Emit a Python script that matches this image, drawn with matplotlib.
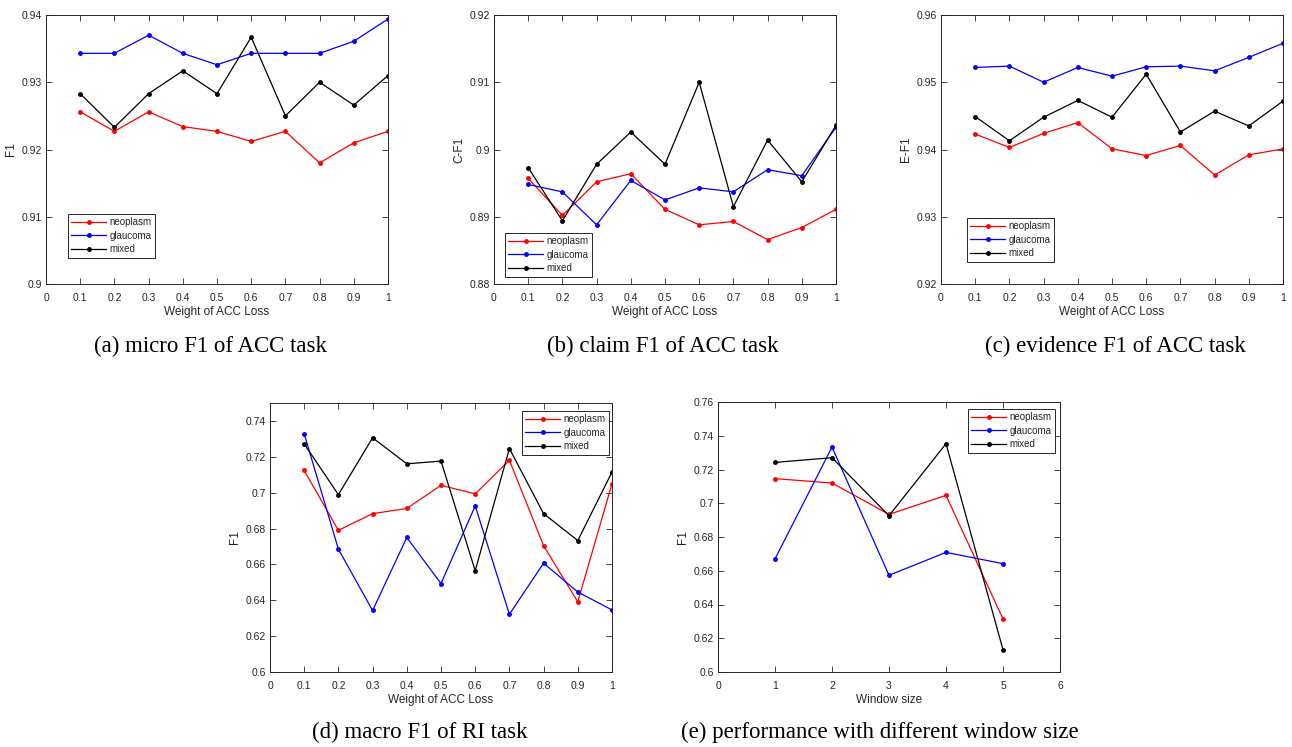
import matplotlib
matplotlib.use("Agg")
import matplotlib.pyplot as plt
from matplotlib.ticker import FuncFormatter

# ---------------- data ----------------
weights = [0.1, 0.2, 0.3, 0.4, 0.5, 0.6, 0.7, 0.8, 0.9, 1.0]
windows = [1, 2, 3, 4, 5]
series_names = ["neoplasm", "glaucoma", "mixed"]

# (a) micro F1 of ACC task
a_neoplasm = [0.9256, 0.9227, 0.9256, 0.9234, 0.9227, 0.9212, 0.9227, 0.9180, 0.9210, 0.9227]
a_glaucoma = [0.9343, 0.9343, 0.9370, 0.9343, 0.9326, 0.9343, 0.9343, 0.9343, 0.9361, 0.9394]
a_mixed    = [0.9283, 0.9233, 0.9283, 0.9317, 0.9283, 0.9367, 0.9250, 0.9300, 0.9266, 0.9310]

# (b) claim F1 of ACC task
b_neoplasm = [0.8957, 0.8902, 0.8952, 0.8964, 0.8911, 0.8888, 0.8893, 0.8866, 0.8884, 0.8911]
b_glaucoma = [0.8948, 0.8937, 0.8888, 0.8954, 0.8925, 0.8943, 0.8937, 0.8970, 0.8961, 0.9033]
b_mixed    = [0.8973, 0.8894, 0.8978, 0.9026, 0.8978, 0.9100, 0.8915, 0.9014, 0.8952, 0.9036]

# (c) evidence F1 of ACC task
c_neoplasm = [0.9423, 0.9403, 0.9424, 0.9440, 0.9401, 0.9391, 0.9406, 0.9362, 0.9392, 0.9401]
c_glaucoma = [0.9522, 0.9524, 0.9500, 0.9522, 0.9509, 0.9523, 0.9524, 0.9517, 0.9537, 0.9558]
c_mixed    = [0.9449, 0.9413, 0.9448, 0.9473, 0.9448, 0.9512, 0.9426, 0.9457, 0.9435, 0.9472]

# (d) macro F1 of RI task
d_neoplasm = [0.7124, 0.6790, 0.6883, 0.6912, 0.7041, 0.6993, 0.7181, 0.6704, 0.6391, 0.7050]
d_glaucoma = [0.7328, 0.6685, 0.6343, 0.6750, 0.6493, 0.6926, 0.6322, 0.6607, 0.6446, 0.6346]
d_mixed    = [0.7272, 0.6989, 0.7306, 0.7161, 0.7176, 0.6565, 0.7246, 0.6883, 0.6733, 0.7115]

# (e) performance with different window size
e_neoplasm = [0.7146, 0.7120, 0.6934, 0.7047, 0.6314]
e_glaucoma = [0.6670, 0.7333, 0.6573, 0.6709, 0.6642]
e_mixed    = [0.7242, 0.7270, 0.6926, 0.7353, 0.6132]

captions = ["(a) micro F1 of ACC task", "(b) claim F1 of ACC task",
            "(c) evidence F1 of ACC task", "(d) macro F1 of RI task",
            "(e) performance with different window size"]

# ---------------- figure ----------------
W, H = 1292, 747
fig = plt.figure(figsize=(W / 100, H / 100), dpi=100)
plt.rcParams['font.family'] = ['Liberation Sans', 'DejaVu Sans']

colors = ["#ff0000", "#0000ff", "#000000"]
grey = "#262626"


def px_rect(l, t, r, b):
    return [l / W, 1 - b / H, (r - l) / W, (b - t) / H]


def fmt(v, pos):
    s = ("%.2f" % v).rstrip("0").rstrip(".")
    return s


def make_panel(rect, x, ys, xlim, xticks, ylim, yticks, xlabel, ylabel, leg_xy):
    ax = fig.add_axes(px_rect(*rect))
    for y, c, n in zip(ys, colors, series_names):
        ax.plot(x, y, color=c, marker='.', markersize=5, linewidth=0.9, label=n)
    ax.set_xlim(*xlim)
    ax.set_ylim(*ylim)
    ax.set_xticks(xticks)
    ax.set_yticks(yticks)
    ax.xaxis.set_major_formatter(FuncFormatter(fmt))
    ax.yaxis.set_major_formatter(FuncFormatter(fmt))
    ax.tick_params(direction='in', top=True, right=True, length=4, width=0.6,
                   labelsize=7.5, colors=grey)
    ax.tick_params(axis='x', pad=6.5)
    ax.tick_params(axis='y', pad=3)
    for sp in ax.spines.values():
        sp.set_color(grey)
        sp.set_linewidth(0.7)
    ax.set_xlabel(xlabel, fontsize=8.5, color=grey, labelpad=2)
    ax.set_ylabel(ylabel, fontsize=8.5, color=grey, labelpad=3)
    leg = ax.legend(loc='upper left', bbox_to_anchor=(leg_xy[0] / W, 1 - leg_xy[1] / H),
                    bbox_transform=fig.transFigure, borderaxespad=0, fontsize=7,
                    fancybox=False, framealpha=1, edgecolor=grey, handlelength=3.6,
                    handletextpad=0.3, borderpad=0.35, labelspacing=0.35)
    leg.get_frame().set_linewidth(0.7)
    for t in leg.get_texts():
        t.set_color(grey)
    return ax


wt = [0, 0.1, 0.2, 0.3, 0.4, 0.5, 0.6, 0.7, 0.8, 0.9, 1.0]
make_panel((46, 15, 388, 284), weights, [a_neoplasm, a_glaucoma, a_mixed], (0, 1), wt,
           (0.90, 0.94), [0.90, 0.91, 0.92, 0.93, 0.94], "Weight of ACC Loss", "F1", (68, 214))
make_panel((494, 15, 836, 284), weights, [b_neoplasm, b_glaucoma, b_mixed], (0, 1), wt,
           (0.88, 0.92), [0.88, 0.89, 0.90, 0.91, 0.92], "Weight of ACC Loss", "C-F1", (505, 233))
make_panel((941, 15, 1283, 284), weights, [c_neoplasm, c_glaucoma, c_mixed], (0, 1), wt,
           (0.92, 0.96), [0.92, 0.93, 0.94, 0.95, 0.96], "Weight of ACC Loss", "E-F1", (967, 218))
make_panel((270, 403, 612, 672), weights, [d_neoplasm, d_glaucoma, d_mixed], (0, 1), wt,
           (0.60, 0.75), [0.60, 0.62, 0.64, 0.66, 0.68, 0.70, 0.72, 0.74], "Weight of ACC Loss", "F1",
           (522, 411))
make_panel((718, 402, 1060, 672), windows, [e_neoplasm, e_glaucoma, e_mixed], (0, 6), [0, 1, 2, 3, 4, 5, 6],
           (0.60, 0.76), [0.60, 0.62, 0.64, 0.66, 0.68, 0.70, 0.72, 0.74, 0.76], "Window size", "F1",
           (968, 409))

cap_pos = [(211, 346), (663, 346), (1115, 346), (420, 732), (880, 732)]
for (cx, cy), txt in zip(cap_pos, captions):
    fig.text(cx / W, 1 - cy / H, txt, ha='center', va='center', fontsize=16.5,
             family=['Liberation Serif', 'DejaVu Serif'], color='black')

fig.savefig("out.png", dpi=100)
